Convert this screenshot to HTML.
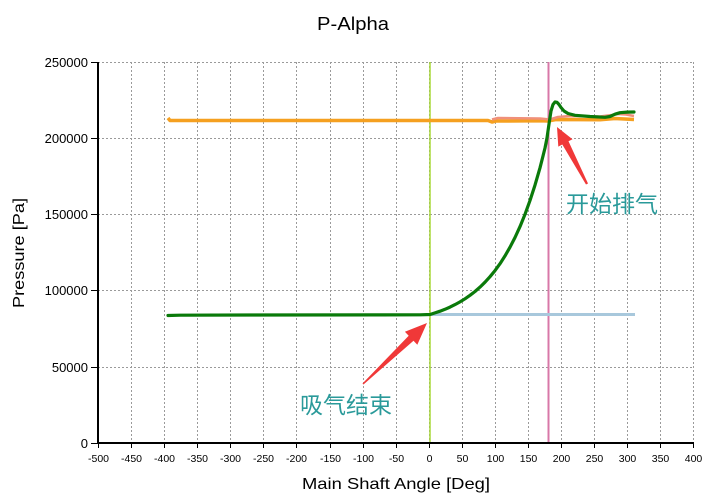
<!DOCTYPE html>
<html><head><meta charset="utf-8"><style>
html,body{margin:0;padding:0;background:#fff;}
svg{display:block;}
text{font-family:"Liberation Sans","Noto Sans CJK SC",sans-serif;}
</style></head><body>
<svg width="707" height="498" viewBox="0 0 707 498" xmlns="http://www.w3.org/2000/svg">
<rect width="707" height="498" fill="#fff"/>
<text x="353" y="30" font-size="18" text-anchor="middle" textLength="72" lengthAdjust="spacingAndGlyphs" fill="#000">P-Alpha</text>
<!-- grid -->
<g stroke="#9a9a9a" stroke-width="1" stroke-dasharray="2,2" fill="none">
<line x1="98" y1="62.5" x2="693" y2="62.5"/>
<line x1="98" y1="138.5" x2="693" y2="138.5"/>
<line x1="98" y1="214.5" x2="693" y2="214.5"/>
<line x1="98" y1="290.5" x2="693" y2="290.5"/>
<line x1="98" y1="367.5" x2="693" y2="367.5"/>
<line x1="131.5" y1="62" x2="131.5" y2="443"/>
<line x1="164.5" y1="62" x2="164.5" y2="443"/>
<line x1="197.5" y1="62" x2="197.5" y2="443"/>
<line x1="230.5" y1="62" x2="230.5" y2="443"/>
<line x1="263.5" y1="62" x2="263.5" y2="443"/>
<line x1="296.5" y1="62" x2="296.5" y2="443"/>
<line x1="330.5" y1="62" x2="330.5" y2="443"/>
<line x1="363.5" y1="62" x2="363.5" y2="443"/>
<line x1="396.5" y1="62" x2="396.5" y2="443"/>
<line x1="429.5" y1="62" x2="429.5" y2="443"/>
<line x1="462.5" y1="62" x2="462.5" y2="443"/>
<line x1="495.5" y1="62" x2="495.5" y2="443"/>
<line x1="528.5" y1="62" x2="528.5" y2="443"/>
<line x1="561.5" y1="62" x2="561.5" y2="443"/>
<line x1="594.5" y1="62" x2="594.5" y2="443"/>
<line x1="627.5" y1="62" x2="627.5" y2="443"/>
<line x1="660.5" y1="62" x2="660.5" y2="443"/>
<line x1="693.5" y1="62" x2="693.5" y2="443"/>
</g>
<!-- vertical markers -->
<line x1="430" y1="62" x2="430" y2="443" stroke="#a8d838" stroke-width="1.5"/>
<line x1="548.5" y1="62" x2="548.5" y2="443" stroke="#d878a8" stroke-width="2"/>
<!-- light blue -->
<polyline points="428,314.5 635,314.5" fill="none" stroke="#a8c8dc" stroke-width="3"/>
<!-- orange -->
<polyline points="168,118 170,120.5 488,120.5 492,122 496,121 540,120.8 548,121 556,119.5 600,119.8 615,118.5 634,119.5" fill="none" stroke="#f5a020" stroke-width="3.5" stroke-linejoin="round"/>
<!-- salmon -->
<polyline points="492,119.5 498,118 540,118.5 550,119.5 558,117 570,116 600,116.5 612,115 618,114 626,114.5 634,116" fill="none" stroke="#f0907a" stroke-width="2.5" stroke-linejoin="round"/>
<!-- green -->
<polyline points="168,315.5 180,315.2 250,315 420,314.8 430,314.5 435,312.9 440,311.2 445,309.3 450,307.1 455,304.6 460,301.9 465,298.8 470,295.3 475,291.5 480,287.1 485,282.2 490,276.7 495,270.6 500,263.7 505,255.9 510,247.2 515,237.5 520,226.6 525,214.3 530,200.5 535,185.1 540,167.8 543,156 545,148 547,138 549,124 551,111 553,104.5 555,102 557,102.3 559,104.5 561,107.5 564,111 568,113.5 575,115.3 590,116.5 605,117.3 610,116.5 615,114.2 620,112.7 627,112.1 634,112" fill="none" stroke="#0a7a0a" stroke-width="3.2" stroke-linejoin="round" stroke-linecap="round"/>
<!-- axes -->
<g stroke="#000" stroke-width="2" fill="none">
<line x1="98" y1="62" x2="98" y2="444"/>
<line x1="97" y1="443" x2="694" y2="443"/>
</g>
<g stroke="#000" stroke-width="1">
<line x1="91" y1="62.5" x2="98" y2="62.5"/>
<line x1="91" y1="138.5" x2="98" y2="138.5"/>
<line x1="91" y1="214.5" x2="98" y2="214.5"/>
<line x1="91" y1="290.5" x2="98" y2="290.5"/>
<line x1="91" y1="367.5" x2="98" y2="367.5"/>
<line x1="91" y1="443.5" x2="98" y2="443.5"/>
<line x1="98.5" y1="443" x2="98.5" y2="448"/>
<line x1="131.5" y1="443" x2="131.5" y2="448"/>
<line x1="164.5" y1="443" x2="164.5" y2="448"/>
<line x1="197.5" y1="443" x2="197.5" y2="448"/>
<line x1="230.5" y1="443" x2="230.5" y2="448"/>
<line x1="263.5" y1="443" x2="263.5" y2="448"/>
<line x1="296.5" y1="443" x2="296.5" y2="448"/>
<line x1="330.5" y1="443" x2="330.5" y2="448"/>
<line x1="363.5" y1="443" x2="363.5" y2="448"/>
<line x1="396.5" y1="443" x2="396.5" y2="448"/>
<line x1="429.5" y1="443" x2="429.5" y2="448"/>
<line x1="462.5" y1="443" x2="462.5" y2="448"/>
<line x1="495.5" y1="443" x2="495.5" y2="448"/>
<line x1="528.5" y1="443" x2="528.5" y2="448"/>
<line x1="561.5" y1="443" x2="561.5" y2="448"/>
<line x1="594.5" y1="443" x2="594.5" y2="448"/>
<line x1="627.5" y1="443" x2="627.5" y2="448"/>
<line x1="660.5" y1="443" x2="660.5" y2="448"/>
<line x1="693.5" y1="443" x2="693.5" y2="448"/>
</g>
<g font-size="13" text-anchor="end" fill="#000">
<text x="88" y="67">250000</text>
<text x="88" y="143">200000</text>
<text x="88" y="219">150000</text>
<text x="88" y="295">100000</text>
<text x="88" y="372">50000</text>
<text x="88" y="448">0</text>
</g>
<g font-size="10.5" text-anchor="middle" fill="#000">
<text x="98.5" y="462">-500</text>
<text x="131.5" y="462">-450</text>
<text x="164.5" y="462">-400</text>
<text x="197.5" y="462">-350</text>
<text x="230.5" y="462">-300</text>
<text x="263.5" y="462">-250</text>
<text x="296.5" y="462">-200</text>
<text x="330.5" y="462">-150</text>
<text x="363.5" y="462">-100</text>
<text x="396.5" y="462">-50</text>
<text x="429.5" y="462">0</text>
<text x="462.5" y="462">50</text>
<text x="495.5" y="462">100</text>
<text x="528.5" y="462">150</text>
<text x="561.5" y="462">200</text>
<text x="594.5" y="462">250</text>
<text x="627.5" y="462">300</text>
<text x="660.5" y="462">350</text>
<text x="693.5" y="462">400</text>
</g>
<text x="396" y="489" font-size="16" text-anchor="middle" textLength="188" lengthAdjust="spacingAndGlyphs" fill="#000">Main Shaft Angle [Deg]</text>
<text transform="translate(24,253) rotate(-90)" font-size="16" text-anchor="middle" textLength="110" lengthAdjust="spacingAndGlyphs" fill="#000">Pressure [Pa]</text>
<!-- arrows -->
<polygon points="362.5,383.5 408.7,335.7 404.9,331.7 427,323 417.3,344.7 413.5,340.7 363.5,384.5" fill="#f03838"/>
<polygon points="586,184.5 562.3,144.5 558.3,146.6 557,127 572.5,139.2 568.5,141.3 588,183.5" fill="#f03838"/>
<text x="300" y="413" font-size="23" fill="#2a9a9a" font-family="'Noto Sans CJK SC',sans-serif">吸气结束</text>
<text x="566" y="212" font-size="23" fill="#2a9a9a" font-family="'Noto Sans CJK SC',sans-serif">开始排气</text>
</svg>
</body></html>
